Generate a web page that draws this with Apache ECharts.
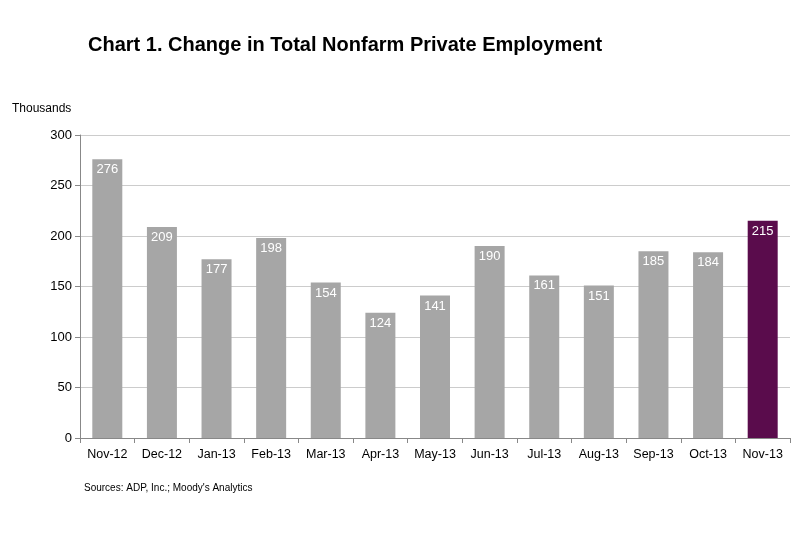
<!DOCTYPE html>
<html><head><meta charset="utf-8">
<script src="https://cdn.jsdelivr.net/npm/echarts@6/dist/echarts.min.js"></script>
<style>body{margin:0}#c{width:800px;height:533px}</style></head>
<body><div id="c"></div>
<script>
const categories=["Nov-12","Dec-12","Jan-13","Feb-13","Mar-13","Apr-13","May-13","Jun-13","Jul-13","Aug-13","Sep-13","Oct-13","Nov-13"];
const values=[276,209,177,198,154,124,141,190,161,151,185,184,215];
const yTicks={min:0,max:300,interval:50};
const chart=echarts.init(document.getElementById('c'));
chart.setOption({
  animation:false,
  title:[{text:'Chart 1. Change in Total Nonfarm Private Employment',left:83,top:30,textStyle:{fontFamily:'Liberation Sans',fontWeight:'bold',fontSize:20,color:'#000'}},
         {text:'Sources: ADP, Inc.; Moody\'s Analytics',left:79,top:478,textStyle:{fontFamily:'Liberation Sans',fontWeight:'normal',fontSize:10,color:'#000'}}],
  grid:{left:80,right:10,top:135,bottom:95},
  xAxis:{type:'category',data:categories,axisTick:{show:true,alignWithLabel:false,interval:0,lineStyle:{color:'#888'}},axisLine:{lineStyle:{color:'#888'}},
    axisLabel:{color:'#000',fontSize:12.5,interval:0,fontFamily:'Liberation Sans',margin:10}},
  yAxis:{type:'value',...yTicks,name:'Thousands',nameLocation:'end',nameGap:20,nameTextStyle:{color:'#000',fontSize:12,fontFamily:'Liberation Sans',align:'left',padding:[0,0,0,-68]},
    axisLine:{show:true,lineStyle:{color:'#888'}},axisTick:{show:true,lineStyle:{color:'#888'}},
    axisLabel:{color:'#000',fontSize:13,fontFamily:'Liberation Sans'},splitLine:{lineStyle:{color:'#ccc'}}},
  series:[{type:'bar',barWidth:30,
    data:values.map((v,i)=>({value:v,itemStyle:{color:i===values.length-1?'#5a0c4c':'#a6a6a6'}})),
    label:{show:true,position:'insideTop',distance:4,color:'#fff',fontSize:13,fontFamily:'Liberation Sans'}}]
});
</script></body></html>
